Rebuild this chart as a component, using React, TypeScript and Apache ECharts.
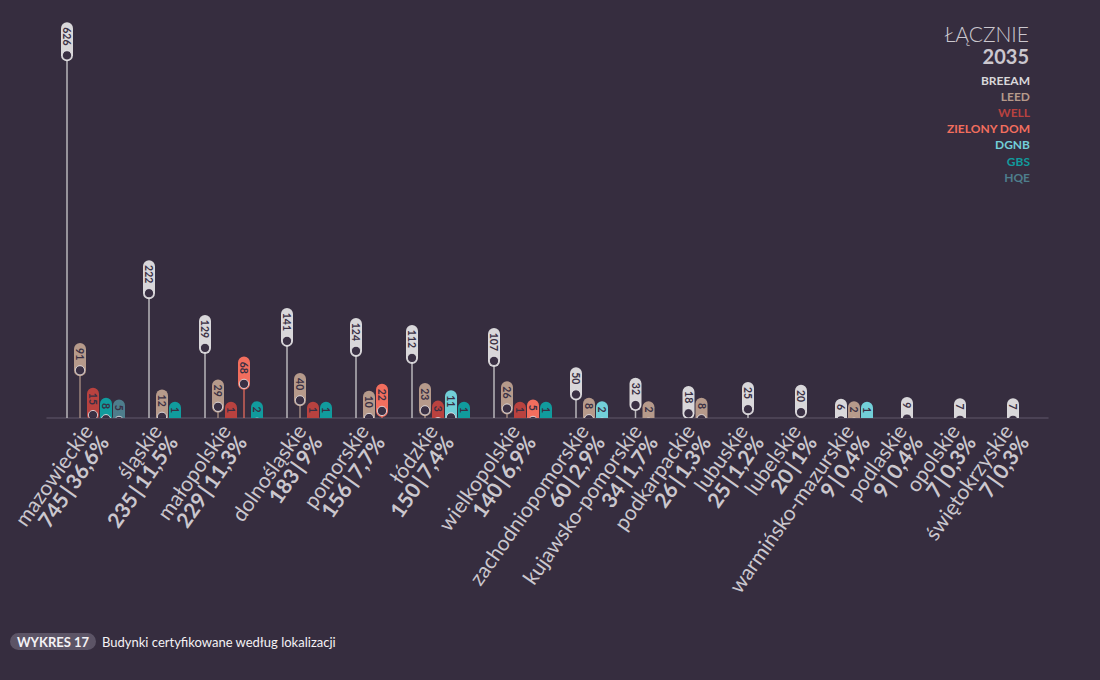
import React, { useEffect, useRef } from "react";
import * as echarts from "echarts";

const regions = [
  "mazowieckie", "śląskie", "małopolskie", "dolnośląskie", "pomorskie", "łódzkie",
  "wielkopolskie", "zachodniopomorskie", "kujawsko-pomorskie", "podkarpackie",
  "lubuskie", "lubelskie", "warmińsko-mazurskie", "podlaskie", "opolskie", "świętokrzyskie",
];
const seriesNames = ["BREEAM", "LEED", "WELL", "ZIELONY DOM", "DGNB", "GBS", "HQE"];
const breeam = [626, 222, 129, 141, 124, 112, 107, 50, 32, 18, 25, 20, 6, 9, 7, 7];
const leed = [91, 12, 29, 40, 10, 23, 26, 8, 2, 8, 0, 0, 2, 0, 0, 0];
const well = [15, 0, 1, 1, 0, 3, 1, 0, 0, 0, 0, 0, 0, 0, 0, 0];
const zielonyDom = [0, 0, 68, 0, 22, 0, 5, 0, 0, 0, 0, 0, 0, 0, 0, 0];
const dgnb = [0, 0, 0, 0, 0, 11, 0, 2, 0, 0, 0, 0, 1, 0, 0, 0];
const gbs = [8, 1, 2, 1, 0, 1, 1, 0, 0, 0, 0, 0, 0, 0, 0, 0];
const hqe = [5, 0, 0, 0, 0, 0, 0, 0, 0, 0, 0, 0, 0, 0, 0, 0];
const seriesValues = [breeam, leed, well, zielonyDom, dgnb, gbs, hqe];
const seriesColors = ["#d9d7da", "#b69a8b", "#b9423f", "#f26e5e", "#72cfd8", "#119b9d", "#4e7d8c"];

const BG = "#362d3f";
const TEXT = "#cbc7ce";
const FONT = "Lato, 'Open Sans', sans-serif";

// layout rules (pixels == x-axis units)
const SLOT = 13;
const FIRST = 67;
const GROUP_GAP = 30;
const MIN_CENTER_STEP = 53;
const Y_MIN = 10;
const Y_MAX = 720;

function buildLayout() {
  const xs: number[][] = seriesValues.map(() => []);
  const centers: number[] = [];
  let prevEnd: number | null = null;
  let prevCenter = 0;
  regions.forEach((_, r) => {
    const present = seriesValues.map((v, s) => (v[r] > 0 ? s : -1)).filter((s) => s >= 0);
    const n = present.length;
    let start = FIRST;
    if (prevEnd !== null) {
      start = Math.max(prevEnd + GROUP_GAP, prevCenter + MIN_CENTER_STEP - ((n - 1) * SLOT) / 2);
    }
    present.forEach((s, k) => (xs[s][r] = start + k * SLOT));
    const end = start + (n - 1) * SLOT;
    centers.push((start + end) / 2);
    prevEnd = end;
    prevCenter = (start + end) / 2;
  });
  return { xs, centers };
}

function fmtPct(v: number, total: number) {
  const p = ((v / total) * 100).toFixed(1).replace(".", ",");
  return p.endsWith(",0") ? p.slice(0, -2) : p;
}

export default function App() {
  const ref = useRef<HTMLDivElement>(null);
  useEffect(() => {
    document.body.style.margin = "0";
    document.body.style.background = BG;
    if (!ref.current) return;
    const chart = echarts.init(ref.current, null, { renderer: "svg" });
    const { xs, centers } = buildLayout();
    const regionTotals = regions.map((_, r) => seriesValues.reduce((a, v) => a + v[r], 0));
    const total = regionTotals.reduce((a, b) => a + b, 0);

    const pinSeries = seriesNames.map((name, s) => {
      const color = seriesColors[s];
      const data = seriesValues[s]
        .map((v, r) => (v > 0 ? [xs[s][r], v] : null))
        .filter((d) => d !== null);
      return {
        type: "custom",
        name,
        clip: true,
        itemStyle: { color },
        data,
        renderItem: (params: any, api: any) => {
          const x = api.value(0);
          const v = api.value(1);
          const [cx, cy] = api.coord([x, v]);
          const yb = api.coord([x, Y_MIN])[1];
          const label = String(v);
          const d = label.length;
          const R = 6;
          const top = cy - (15.75 + 5.75 * d);
          return {
            type: "group",
            children: [
              {
                type: "line",
                shape: { x1: cx, y1: cy, x2: cx, y2: yb + 10 },
                style: { stroke: color, lineWidth: 1.5, opacity: 0.8 },
              },
              {
                type: "rect",
                shape: { x: cx - R, y: top, width: 2 * R, height: cy + R - top, r: R },
                style: { fill: color },
              },
              {
                type: "circle",
                shape: { cx, cy, r: 4.6 },
                style: { fill: "#3a3044", stroke: "#f2f0f2", lineWidth: 0.8 },
              },
              {
                type: "text",
                x: cx,
                y: (top + cy - 5) / 2,
                rotation: -Math.PI / 2,
                style: {
                  text: label,
                  align: "center",
                  verticalAlign: "middle",
                  fill: "#3a3044",
                  font: `bold 10.5px ${FONT}`,
                },
              },
            ],
          };
        },
      };
    });

    const labelSeries = {
      type: "custom",
      name: "labels",
      clip: false,
      silent: true,
      data: regions.map((_, r) => [centers[r], Y_MIN, r]),
      renderItem: (params: any, api: any) => {
        const r = api.value(2);
        const [px, py] = api.coord([api.value(0), api.value(1)]);
        return {
          type: "text",
          x: px + 2,
          y: py + 14,
          rotation: (55 * Math.PI) / 180,
          style: {
            text: `{n|${regions[r]}}\n{b|${regionTotals[r]}\u2009|\u2009${fmtPct(regionTotals[r], total)}%}`,
            align: "right",
            verticalAlign: "middle",
            rich: {
              n: { fontFamily: FONT, fontSize: 21, fill: TEXT, lineHeight: 20, align: "right" },
              b: { fontFamily: FONT, fontSize: 21, fontWeight: "bold", fill: TEXT, lineHeight: 20, align: "right" },
            },
          },
        };
      },
    };

    chart.setOption({
      animation: false,
      backgroundColor: BG,
      legend: {
        orient: "vertical",
        right: 60,
        top: 68,
        align: "right",
        itemWidth: 0,
        itemHeight: 14,
        itemGap: 2.2,
        selectedMode: false,
        data: seriesNames.map((n, s) => ({
          name: n,
          icon: "rect",
          textStyle: { color: seriesColors[s] },
        })),
        textStyle: { fontFamily: FONT, fontSize: 12, fontWeight: "bold" },
      },
      grid: { left: 47, right: 52, top: 0, bottom: 262, containLabel: false },
      xAxis: {
        type: "value",
        min: 47,
        max: 1048,
        axisLine: { show: true, onZero: false, lineStyle: { color: "#534a5d", width: 1.5 } },
        axisTick: { show: false },
        axisLabel: { show: false },
        splitLine: { show: false },
      },
      yAxis: {
        type: "value",
        min: Y_MIN,
        max: Y_MAX,
        show: false,
        splitLine: { show: false },
      },
      graphic: [
        {
          type: "text",
          x: 1029,
          y: 33,
          style: {
            text: "ŁĄCZNIE",
            align: "right",
            verticalAlign: "middle",
            fill: TEXT,
            font: `300 21px ${FONT}`,
          },
        },
        {
          type: "text",
          x: 1029,
          y: 56,
          style: {
            text: String(total),
            align: "right",
            verticalAlign: "middle",
            fill: TEXT,
            font: `bold 20px ${FONT}`,
          },
        },
        {
          type: "group",
          left: 10,
          top: 633,
          children: [
            {
              type: "rect",
              shape: { x: 0, y: 0, width: 86, height: 17, r: 8.5 },
              style: { fill: "#5c5466" },
            },
            {
              type: "text",
              x: 43,
              y: 8.5,
              style: {
                text: "WYKRES 17",
                align: "center",
                verticalAlign: "middle",
                fill: "#f4f2f5",
                font: `bold 13px ${FONT}`,
              },
            },
            {
              type: "text",
              x: 92,
              y: 8.5,
              style: {
                text: "Budynki certyfikowane według lokalizacji",
                align: "left",
                verticalAlign: "middle",
                fill: "#f4f2f5",
                font: `13px ${FONT}`,
              },
            },
          ],
        },
      ],
      series: [...pinSeries, labelSeries],
    });
    return () => chart.dispose();
  }, []);
  return <div ref={ref} style={{ width: 1100, height: 680, background: BG }} />;
}
